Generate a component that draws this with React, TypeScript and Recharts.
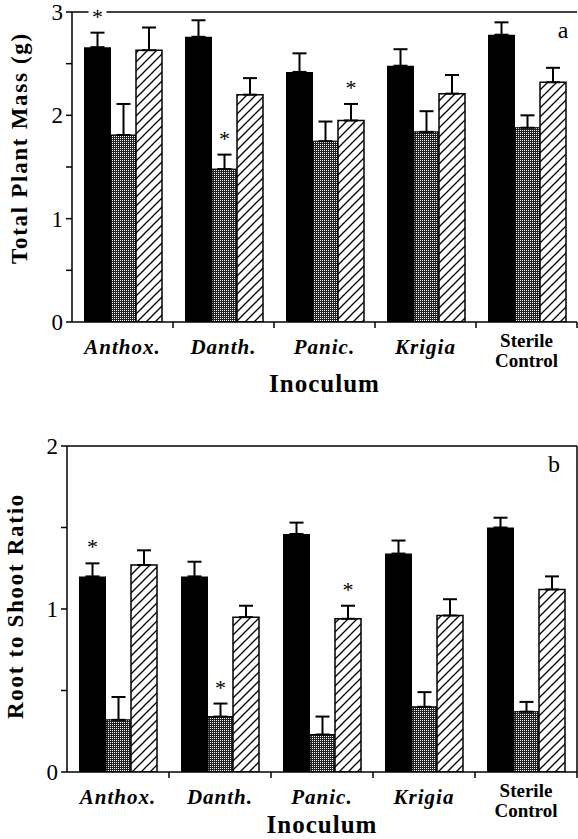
import React from 'react';
import { BarChart, Bar, XAxis, YAxis, ErrorBar, LabelList, CartesianGrid, ReferenceLine } from 'recharts';

const SERIF = '"Liberation Serif", "Times New Roman", "DejaVu Serif", serif';

const categories = ['Anthox.', 'Danth.', 'Panic.', 'Krigia', 'Sterile\nControl'];

// panel a: total plant mass (g)
const massSolid = [2.66, 2.76, 2.42, 2.48, 2.78];
const massSolidErr = [0.14, 0.16, 0.18, 0.16, 0.12];
const massStippled = [1.81, 1.48, 1.75, 1.84, 1.88];
const massStippledErr = [0.3, 0.14, 0.19, 0.2, 0.12];
const massHatched = [2.63, 2.2, 1.95, 2.21, 2.32];
const massHatchedErr = [0.22, 0.16, 0.16, 0.18, 0.14];
const massTicks = [0, 0.5, 1, 1.5, 2, 2.5, 3];

// panel b: root to shoot ratio
const ratioSolid = [1.2, 1.2, 1.46, 1.34, 1.5];
const ratioSolidErr = [0.08, 0.09, 0.07, 0.08, 0.06];
const ratioStippled = [0.32, 0.34, 0.23, 0.4, 0.37];
const ratioStippledErr = [0.14, 0.08, 0.11, 0.09, 0.06];
const ratioHatched = [1.27, 0.95, 0.94, 0.96, 1.12];
const ratioHatchedErr = [0.09, 0.07, 0.08, 0.1, 0.08];
const ratioTicks = [0, 0.5, 1, 1.5, 2];

// which category gets an asterisk, per series
const sigSolid = [0];
const sigStippled = [1];
const sigHatched = [2];

const buildRows = (s, se, g, ge, h, he) =>
  categories.map((name, i) => ({
    name,
    solid: s[i],
    solidErr: [0, se[i]],
    stippled: g[i],
    stippledErr: [0, ge[i]],
    hatched: h[i],
    hatchedErr: [0, he[i]],
  }));

const massRows = buildRows(massSolid, massSolidErr, massStippled, massStippledErr, massHatched, massHatchedErr);
const ratioRows = buildRows(ratioSolid, ratioSolidErr, ratioStippled, ratioStippledErr, ratioHatched, ratioHatchedErr);

const axisStroke = { stroke: '#000', strokeWidth: 1.5 };

// category label plus a tick mark on the right edge of each category band
const CategoryTick = (props: any) => {
  const { x, y, payload } = props;
  const half = payload.offset || 0;
  const lines = String(payload.value).split('\n');
  const mark = <line x1={x + half} x2={x + half} y1={y} y2={y + 6} stroke="#000" strokeWidth={1.5} />;
  if (lines.length > 1) {
    return (
      <g>
        {mark}
        <g fontFamily={SERIF} fontWeight="bold" fontSize={19} fill="#000">
          <text x={x} y={y + 25} textAnchor="middle">{lines[0]}</text>
          <text x={x} y={y + 45} textAnchor="middle">{lines[1]}</text>
        </g>
      </g>
    );
  }
  return (
    <g>
      {mark}
      <text x={x} y={y + 32} textAnchor="middle" fontFamily={SERIF} fontWeight="bold"
        fontStyle="italic" fontSize={21} letterSpacing={1} fill="#000">
        {lines[0]}
      </text>
    </g>
  );
};

const starLabel = (errs: number[], sig: number[]) => (props: any) => {
  const { x, y, width, height, value, index } = props;
  if (!sig.includes(index) || !value) return null;
  const top = y - errs[index] * (height / value);
  const cx = x + width / 2;
  return (
    <g>
      <rect x={cx - 9} y={top - 30} width={18} height={18} fill="#fff" />
      <text x={cx} y={top - 9} textAnchor="middle" fontFamily={SERIF} fontSize={22} fill="#000">*</text>
    </g>
  );
};

function Panel(props: any) {
  const {
    id, rows, ticks, domain, errs, yTitle, titleX, titleDy, letter, letterDx,
    height, marginTop, yWidth, xHeight, inoculumDy, boxed,
  } = props;
  return (
    <BarChart width={578} height={height} data={rows} barGap={0}
      margin={{ top: marginTop, right: 1, bottom: 0, left: 0 }}>
      <defs>
        <pattern id={`${id}-dots`} width="2" height="2" patternUnits="userSpaceOnUse">
          <rect width="2" height="2" fill="#222" />
          <rect width="1" height="1" fill="#fff" />
        </pattern>
        <pattern id={`${id}-hatch`} width="9" height="9" patternUnits="userSpaceOnUse">
          <rect width="9" height="9" fill="#fff" />
          <path d="M-2,2 L2,-2 M0,9 L9,0 M7,11 L11,7" stroke="#000" strokeWidth="1.3" />
        </pattern>
      </defs>
      <CartesianGrid stroke="#000" strokeWidth={1.5}
        horizontalCoordinatesGenerator={({ offset }: any) => [offset.top]}
        verticalCoordinatesGenerator={({ offset }: any) => (boxed ? [offset.left + offset.width] : [])} />
      <XAxis dataKey="name" axisLine={axisStroke} tickLine={false} tickSize={0} tickMargin={0}
        height={xHeight} interval={0} tick={<CategoryTick />}
        label={{
          content: (p: any) => {
            const vb = p.viewBox;
            return (
              <text x={vb.x + vb.width / 2} y={vb.y + inoculumDy} textAnchor="middle" fontFamily={SERIF}
                fontWeight="bold" fontSize={25} letterSpacing={1} fill="#000">Inoculum</text>
            );
          },
        }} />
      <YAxis domain={domain} ticks={ticks} interval={0} allowDataOverflow width={yWidth}
        tickFormatter={(v: number) => (Number.isInteger(v) ? String(v) : '')}
        tickSize={6} tickMargin={3} axisLine={axisStroke} tickLine={axisStroke}
        tick={{ fill: '#000', fontSize: 23, fontFamily: SERIF }}
        label={{
          content: (p: any) => {
            const vb = p.viewBox;
            const cy = vb.y + vb.height / 2 + titleDy;
            return (
              <text transform={`translate(${titleX},${cy}) rotate(-90)`} textAnchor="middle"
                fontFamily={SERIF} fontWeight="bold" fontSize={23} letterSpacing={1.7} fill="#000">
                {yTitle}
              </text>
            );
          },
        }} />
      <ReferenceLine y={domain[1]} stroke="none"
        label={{
          content: (p: any) => {
            const vb = p.viewBox;
            return (
              <text x={vb.x + vb.width - letterDx} y={vb.y + 26} textAnchor="middle" fontFamily={SERIF}
                fontSize={24} fill="#000">{letter}</text>
            );
          },
        }} />
      <Bar dataKey="solid" fill="#000" barSize={27} isAnimationActive={false}>
        <ErrorBar dataKey="solidErr" direction="y" width={7} stroke="#000" strokeWidth={2} />
        <LabelList dataKey="solid" content={starLabel(errs[0], sigSolid)} />
      </Bar>
      <Bar dataKey="stippled" fill={`url(#${id}-dots)`} stroke="#000" strokeWidth={1}
        barSize={25} isAnimationActive={false}>
        <ErrorBar dataKey="stippledErr" direction="y" width={7} stroke="#000" strokeWidth={2} />
        <LabelList dataKey="stippled" content={starLabel(errs[1], sigStippled)} />
      </Bar>
      <Bar dataKey="hatched" fill={`url(#${id}-hatch)`} stroke="#000" strokeWidth={1.5}
        barSize={26} isAnimationActive={false}>
        <ErrorBar dataKey="hatchedErr" direction="y" width={7} stroke="#000" strokeWidth={2} />
        <LabelList dataKey="hatched" content={starLabel(errs[2], sigHatched)} />
      </Bar>
    </BarChart>
  );
}

export default function App() {
  return (
    <div style={{ position: 'absolute', left: 0, top: 0, width: 578, height: 839, background: '#fff' }}>
      <div style={{ position: 'absolute', left: 0, top: 0 }}>
        <Panel id="pa" rows={massRows} ticks={massTicks} domain={[0, 3]}
          errs={[massSolidErr, massStippledErr, massHatchedErr]}
          yTitle="Total Plant Mass (g)" titleX={27} titleDy={-19} letter="a" letterDx={14}
          height={400} marginTop={12} yWidth={72} xHeight={78} inoculumDy={70} boxed={false} />
      </div>
      <div style={{ position: 'absolute', left: 0, top: 400 }}>
        <Panel id="pb" rows={ratioRows} ticks={ratioTicks} domain={[0, 2]}
          errs={[ratioSolidErr, ratioStippledErr, ratioHatchedErr]}
          yTitle="Root to Shoot Ratio" titleX={23} titleDy={-3} letter="b" letterDx={23}
          height={439} marginTop={46} yWidth={67} xHeight={67} inoculumDy={61} boxed />
      </div>
    </div>
  );
}
